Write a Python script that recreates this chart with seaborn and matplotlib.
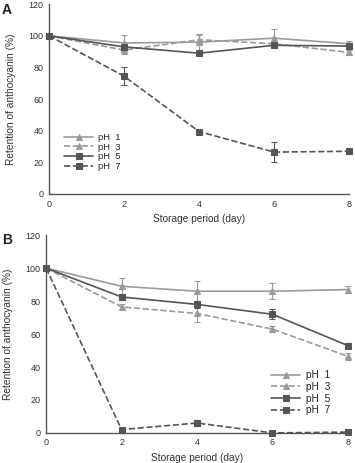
import numpy as np
import pandas as pd
import seaborn as sns
import matplotlib
matplotlib.use("Agg")
import matplotlib.pyplot as plt

# data
days = [0, 2, 4, 6, 8]
labels = ["pH  1", "pH  3", "pH  5", "pH  7"]

# panel A
a_ph1 = [100, 95.5, 96, 98.5, 95]
a_ph3 = [100, 91, 97.5, 95, 89.5]
a_ph5 = [100, 93, 89, 94, 93.5]
a_ph7 = [100, 74.5, 39.5, 26.5, 27]
a_err1 = [0, 5, 5, 5.5, 2]
a_err3 = [0, 2.5, 3, 1.5, 1.5]
a_err5 = [0, 1.5, 1, 1, 2]
a_err7 = [0, 5.5, 0.5, 6.5, 1.5]

# panel B
b_ph1 = [100, 89, 86, 86, 87]
b_ph3 = [100, 76.5, 72.5, 63, 46.5]
b_ph5 = [100, 82.5, 78, 72, 53]
b_ph7 = [100, 2, 6, 0, 0.5]
b_err1 = [0, 5, 6, 5, 2]
b_err3 = [0, 1.5, 5, 2, 2]
b_err5 = [0, 2, 2, 3, 1.5]
b_err7 = [0, 1, 2, 0.5, 1]

light = "#9a9a9a"
dark = "#555555"
styles = [(light, "-", "^"), (light, "--", "^"), (dark, "-", "s"), (dark, "--", "s")]

sns.set_style("white")
plt.rcParams['font.family'] = ['Liberation Sans', 'DejaVu Sans']

fig = plt.figure(figsize=(3.55, 4.63), dpi=100)
axA = fig.add_axes([0.138, 0.581, 0.845, 0.410])
axB = fig.add_axes([0.130, 0.065, 0.850, 0.427])


def draw(ax, series, errs, legend_loc, lsize, spacing):
    for vals, err, lab, (c, ls, m) in zip(series, errs, labels, styles):
        df = pd.DataFrame({"day": days, "val": vals})
        sns.lineplot(data=df, x="day", y="val", ax=ax, color=c, linestyle=ls,
                     marker=m, markersize=4.5, markeredgecolor=c, linewidth=1.2,
                     label=lab, errorbar=None)
        ax.errorbar(days, vals, yerr=err, fmt="none", ecolor=c, elinewidth=0.8,
                    capsize=2, capthick=0.8)
    ax.set_xlim(0, 8)
    ax.set_ylim(0, 120)
    ax.set_xticks([0, 2, 4, 6, 8])
    ax.set_yticks([0, 20, 40, 60, 80, 100, 120])
    ax.set_xlabel("Storage period (day)", fontsize=7.3, color="#333333")
    ax.set_ylabel("Retention of anthocyanin (%)", fontsize=7.3, color="#333333",
                  labelpad=9)
    ax.tick_params(axis="both", labelsize=6.5, length=0, colors="#333333", pad=4)
    for s in ["top", "right"]:
        ax.spines[s].set_visible(False)
    for s in ["left", "bottom"]:
        ax.spines[s].set_color("#555555")
        ax.spines[s].set_linewidth(1.0)
    for a in ax.collections + ax.lines:
        a.set_clip_on(False)
    ax.legend(loc=legend_loc, fontsize=lsize, frameon=False,
              handlelength=29 / (lsize * 100 / 72),
              labelspacing=spacing, borderpad=0.2, handletextpad=0.5)


draw(axA, [a_ph1, a_ph3, a_ph5, a_ph7], [a_err1, a_err3, a_err5, a_err7],
     (0.045, 0.11), 6.8, 0.08)
draw(axB, [b_ph1, b_ph3, b_ph5, b_ph7], [b_err1, b_err3, b_err5, b_err7],
     (0.74, 0.08), 7.3, 0.15)

fig.text(0.005, 0.993, "A", fontsize=10, fontweight="bold", va="top")
fig.text(0.005, 0.497, "B", fontsize=10, fontweight="bold", va="top")

fig.savefig("out.png", dpi=100)
